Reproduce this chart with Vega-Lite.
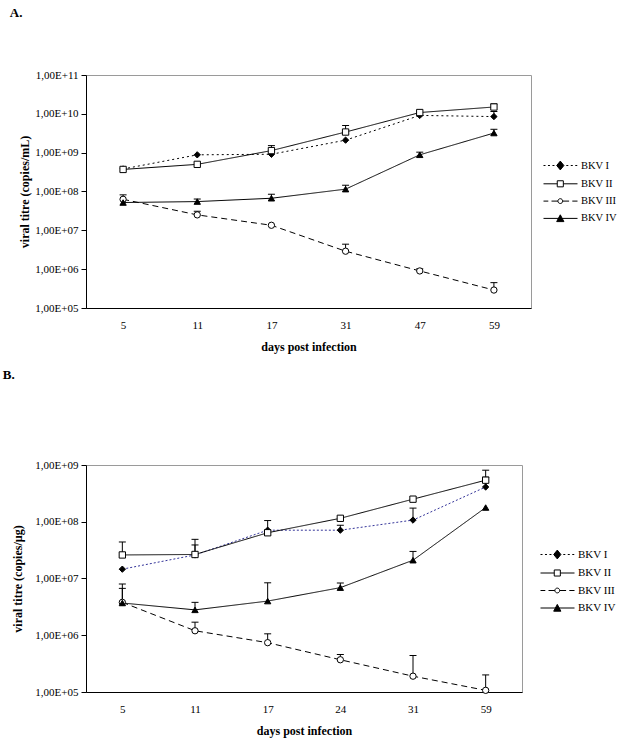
{
  "$schema": "https://vega.github.io/schema/vega-lite/v6.json",
  "padding": {"left": 2, "top": 6, "right": 5, "bottom": 5},
  "datasets": {
    "a": [
      {"series": "BKV I", "day": 5, "value": 3.8e8},
      {"series": "BKV I", "day": 11, "value": 8.8e8},
      {"series": "BKV I", "day": 17, "value": 9.1e8},
      {"series": "BKV I", "day": 31, "value": 2.1e9},
      {"series": "BKV I", "day": 47, "value": 9.1e9},
      {"series": "BKV I", "day": 59, "value": 8.5e9, "upper": 1.15e10},
      {"series": "BKV II", "day": 5, "value": 3.7e8},
      {"series": "BKV II", "day": 11, "value": 5.0e8},
      {"series": "BKV II", "day": 17, "value": 1.13e9, "upper": 1.52e9},
      {"series": "BKV II", "day": 31, "value": 3.4e9, "upper": 5.0e9},
      {"series": "BKV II", "day": 47, "value": 1.08e10},
      {"series": "BKV II", "day": 59, "value": 1.5e10, "upper": 1.8e10},
      {"series": "BKV III", "day": 5, "value": 6.3e7, "upper": 8.2e7},
      {"series": "BKV III", "day": 11, "value": 2.5e7, "upper": 3.1e7},
      {"series": "BKV III", "day": 17, "value": 1.35e7},
      {"series": "BKV III", "day": 31, "value": 2.9e6, "upper": 4.4e6},
      {"series": "BKV III", "day": 47, "value": 9.0e5, "upper": 1.02e6},
      {"series": "BKV III", "day": 59, "value": 2.9e5, "upper": 4.5e5},
      {"series": "BKV IV", "day": 5, "value": 5.2e7},
      {"series": "BKV IV", "day": 11, "value": 5.5e7, "upper": 6.4e7},
      {"series": "BKV IV", "day": 17, "value": 6.7e7, "upper": 8.5e7},
      {"series": "BKV IV", "day": 31, "value": 1.15e8, "upper": 1.45e8},
      {"series": "BKV IV", "day": 47, "value": 8.8e8, "upper": 1.03e9},
      {"series": "BKV IV", "day": 59, "value": 3.2e9, "upper": 4.0e9}
    ],
    "b": [
      {"series": "BKV I", "day": 5, "value": 1.46e7},
      {"series": "BKV I", "day": 11, "value": 2.6e7, "upper": 3.9e7},
      {"series": "BKV I", "day": 17, "value": 7.1e7, "upper": 1.05e8},
      {"series": "BKV I", "day": 24, "value": 7.1e7, "upper": 8.7e7},
      {"series": "BKV I", "day": 31, "value": 1.07e8, "upper": 1.74e8},
      {"series": "BKV I", "day": 59, "value": 4.1e8, "upper": 6.1e8},
      {"series": "BKV II", "day": 5, "value": 2.6e7, "upper": 4.4e7},
      {"series": "BKV II", "day": 11, "value": 2.65e7, "upper": 4.9e7},
      {"series": "BKV II", "day": 17, "value": 6.4e7},
      {"series": "BKV II", "day": 24, "value": 1.15e8},
      {"series": "BKV II", "day": 31, "value": 2.5e8},
      {"series": "BKV II", "day": 59, "value": 5.4e8, "upper": 8.1e8},
      {"series": "BKV III", "day": 5, "value": 3.8e6, "upper": 6.7e6},
      {"series": "BKV III", "day": 11, "value": 1.2e6, "upper": 1.7e6},
      {"series": "BKV III", "day": 17, "value": 7.4e5, "upper": 1.06e6},
      {"series": "BKV III", "day": 24, "value": 3.7e5, "upper": 4.6e5},
      {"series": "BKV III", "day": 31, "value": 1.9e5, "upper": 4.4e5},
      {"series": "BKV III", "day": 59, "value": 1.07e5, "upper": 2.0e5},
      {"series": "BKV IV", "day": 5, "value": 3.7e6, "upper": 8.0e6},
      {"series": "BKV IV", "day": 11, "value": 2.8e6, "upper": 3.8e6},
      {"series": "BKV IV", "day": 17, "value": 4.0e6, "upper": 8.4e6},
      {"series": "BKV IV", "day": 24, "value": 6.9e6, "upper": 8.3e6},
      {"series": "BKV IV", "day": 31, "value": 2.1e7, "upper": 3.0e7},
      {"series": "BKV IV", "day": 59, "value": 1.78e8}
    ]
  },
  "columns": 1,
  "spacing": 15,
  "align": "none",
  "resolve": {
    "scale": {"stroke": "independent", "strokeDash": "independent", "shape": "independent", "fill": "independent"},
    "legend": {"stroke": "independent", "strokeDash": "independent", "shape": "independent", "fill": "independent"}
  },
  "concat": [
    {
      "width": 445,
      "height": 233,
      "data": {"name": "a"},
      "title": {"text": "A.", "anchor": "start", "frame": "bounds", "dx": -9, "offset": 49, "font": "Liberation Serif", "fontSize": 13, "fontWeight": "bold"},
      "resolve": {"scale": {"shape": "independent", "fill": "independent"}},
      "encoding": {
        "x": {"field": "day", "type": "ordinal", "scale": {"type": "point", "padding": 0.5}, "axis": {"title": "days post infection", "labelAngle": 0}},
        "y": {"field": "value", "type": "quantitative", "scale": {"type": "log", "domain": [1e5, 1e11], "nice": false},
              "axis": {"title": "viral titre (copies/mL)", "values": [1e5, 1e6, 1e7, 1e8, 1e9, 1e10, 1e11], "titlePadding": 3,
                       "labelExpr": "'1,00E+' + (log(datum.value)/LN10 < 9.5 ? '0' : '') + round(log(datum.value)/LN10)"}}
      },
      "layer": [
        {"transform": [{"filter": "datum.upper != null"}],
         "mark": {"type": "rule", "color": "black", "strokeWidth": 1},
         "encoding": {"y2": {"field": "upper"}}},
        {"transform": [{"filter": "datum.upper != null"}],
         "mark": {"type": "tick", "color": "black", "thickness": 1, "size": 7, "opacity": 1},
         "encoding": {"y": {"field": "upper", "type": "quantitative"}}},
        {"mark": {"type": "line", "strokeWidth": 1},
         "encoding": {
           "stroke": {"field": "series", "type": "nominal",
             "scale": {"domain": ["BKV I", "BKV II", "BKV III", "BKV IV"], "range": ["black", "black", "black", "black"]},
             "legend": null},
           "strokeDash": {"field": "series", "type": "nominal",
             "scale": {"domain": ["BKV I", "BKV II", "BKV III", "BKV IV"], "range": [[2, 3], [1, 0], [6, 4], [1, 0]]},
             "legend": null}
         }},
        {"mark": {"type": "point", "filled": true, "opacity": 1, "stroke": "black", "strokeWidth": 1, "size": 40},
         "encoding": {
           "shape": {"field": "series", "type": "nominal",
             "scale": {"domain": ["BKV I", "BKV II", "BKV III", "BKV IV"], "range": ["diamond", "square", "circle", "triangle-up"]},
             "legend": null},
           "fill": {"field": "series", "type": "nominal",
             "scale": {"domain": ["BKV I", "BKV II", "BKV III", "BKV IV"], "range": ["black", "white", "white", "black"]},
             "legend": null}
         }},
        {"transform": [{"filter": "datum.day < 0"}],
         "mark": {"type": "point", "filled": true, "opacity": 1, "stroke": "black", "strokeWidth": 1, "size": 256},
         "encoding": {
           "shape": {"field": "series", "type": "nominal",
             "scale": {"domain": ["BKV I", "BKV II", "BKV III", "BKV IV"],
                       "range": ["M-1,0H-0.75M-0.44,0H-0.19M0.12,0H0.37M1.1,-0.55L1.55,0L1.1,0.55L0.65,0ZM1.85,0H2.1M2.41,0H2.66M2.97,0H3.22",
                                 "M-1,0H0.72M0.72,-0.38H1.48V0.38H0.72ZM1.48,0H3.25",
                                 "M-1,0H-0.4M0,0H0.8M0.8,0A0.3,0.3,0,1,0,1.4,0A0.3,0.3,0,1,0,0.8,0ZM1.4,0H2.2M2.6,0H3.25",
                                 "M-1,0H3.25M1.1,-0.45L1.55,0.4H0.65Z"]},
             "legend": {"orient": "none", "legendX": 457, "legendY": 82, "title": null, "symbolSize": 256, "labelOffset": 21, "rowPadding": 3.3,
               "labelFont": "Liberation Serif", "labelFontSize": 10.5, "labelColor": "black", "symbolStrokeWidth": 1}},
           "fill": {"field": "series", "type": "nominal",
             "scale": {"domain": ["BKV I", "BKV II", "BKV III", "BKV IV"], "range": ["black", "white", "white", "black"]},
             "legend": {"orient": "none", "legendX": 457, "legendY": 82, "title": null, "symbolSize": 256, "labelOffset": 21, "rowPadding": 3.3,
               "labelFont": "Liberation Serif", "labelFontSize": 10.5, "labelColor": "black", "symbolStrokeWidth": 1}}
         }}
      ]
    },
    {
      "width": 436,
      "height": 227,
      "data": {"name": "b"},
      "title": {"text": "B.", "anchor": "start", "frame": "bounds", "dx": -9, "offset": 77, "font": "Liberation Serif", "fontSize": 13, "fontWeight": "bold"},
      "resolve": {"scale": {"shape": "independent", "fill": "independent"}},
      "encoding": {
        "x": {"field": "day", "type": "ordinal", "scale": {"type": "point", "padding": 0.5}, "axis": {"title": "days post infection", "labelAngle": 0}},
        "y": {"field": "value", "type": "quantitative", "scale": {"type": "log", "domain": [1e5, 1e9], "nice": false},
              "axis": {"title": "viral titre (copies/µg)", "values": [1e5, 1e6, 1e7, 1e8, 1e9], "titlePadding": 10,
                       "labelExpr": "'1,00E+' + (log(datum.value)/LN10 < 9.5 ? '0' : '') + round(log(datum.value)/LN10)"}}
      },
      "layer": [
        {"transform": [{"filter": "datum.upper != null"}],
         "mark": {"type": "rule", "color": "black", "strokeWidth": 1},
         "encoding": {"y2": {"field": "upper"}}},
        {"transform": [{"filter": "datum.upper != null"}],
         "mark": {"type": "tick", "color": "black", "thickness": 1, "size": 7, "opacity": 1},
         "encoding": {"y": {"field": "upper", "type": "quantitative"}}},
        {"mark": {"type": "line", "strokeWidth": 1},
         "encoding": {
           "stroke": {"field": "series", "type": "nominal",
             "scale": {"domain": ["BKV I", "BKV II", "BKV III", "BKV IV"], "range": ["#333399", "black", "black", "black"]},
             "legend": null},
           "strokeDash": {"field": "series", "type": "nominal",
             "scale": {"domain": ["BKV I", "BKV II", "BKV III", "BKV IV"], "range": [[2, 2], [1, 0], [6, 4], [1, 0]]},
             "legend": null}
         }},
        {"mark": {"type": "point", "filled": true, "opacity": 1, "stroke": "black", "strokeWidth": 1, "size": 40},
         "encoding": {
           "shape": {"field": "series", "type": "nominal",
             "scale": {"domain": ["BKV I", "BKV II", "BKV III", "BKV IV"], "range": ["diamond", "square", "circle", "triangle-up"]},
             "legend": null},
           "fill": {"field": "series", "type": "nominal",
             "scale": {"domain": ["BKV I", "BKV II", "BKV III", "BKV IV"], "range": ["black", "white", "white", "black"]},
             "legend": null}
         }},
        {"transform": [{"filter": "datum.day < 0"}],
         "mark": {"type": "point", "filled": true, "opacity": 1, "stroke": "black", "strokeWidth": 1, "size": 256},
         "encoding": {
           "shape": {"field": "series", "type": "nominal",
             "scale": {"domain": ["BKV I", "BKV II", "BKV III", "BKV IV"],
                       "range": ["M-1,0H-0.75M-0.44,0H-0.19M0.12,0H0.37M1.1,-0.55L1.55,0L1.1,0.55L0.65,0ZM1.85,0H2.1M2.41,0H2.66M2.97,0H3.22",
                                 "M-1,0H0.72M0.72,-0.38H1.48V0.38H0.72ZM1.48,0H3.25",
                                 "M-1,0H-0.4M0,0H0.8M0.8,0A0.3,0.3,0,1,0,1.4,0A0.3,0.3,0,1,0,0.8,0ZM1.4,0H2.2M2.6,0H3.25",
                                 "M-1,0H3.25M1.1,-0.45L1.55,0.4H0.65Z"]},
             "legend": {"orient": "none", "legendX": 454, "legendY": 81, "title": null, "symbolSize": 256, "labelOffset": 21, "rowPadding": 3.5,
               "labelFont": "Liberation Serif", "labelFontSize": 11, "labelColor": "black", "symbolStrokeWidth": 1}},
           "fill": {"field": "series", "type": "nominal",
             "scale": {"domain": ["BKV I", "BKV II", "BKV III", "BKV IV"], "range": ["black", "white", "white", "black"]},
             "legend": {"orient": "none", "legendX": 454, "legendY": 81, "title": null, "symbolSize": 256, "labelOffset": 21, "rowPadding": 3.5,
               "labelFont": "Liberation Serif", "labelFontSize": 11, "labelColor": "black", "symbolStrokeWidth": 1}}
         }}
      ]
    }
  ],
  "config": {
    "font": "Liberation Serif",
    "view": {"stroke": "#9a9a9a"},
    "axis": {"domainColor": "black", "tickColor": "black", "labelColor": "black", "titleColor": "black",
             "labelFont": "Liberation Serif", "titleFont": "Liberation Serif", "labelFontSize": 11,
             "titleFontSize": 12, "titleFontWeight": "bold", "grid": false},
    "axisX": {"ticks": false, "labelPadding": 11, "titlePadding": 11},
    "axisY": {"tickSize": 5, "labelPadding": 3}
  }
}
